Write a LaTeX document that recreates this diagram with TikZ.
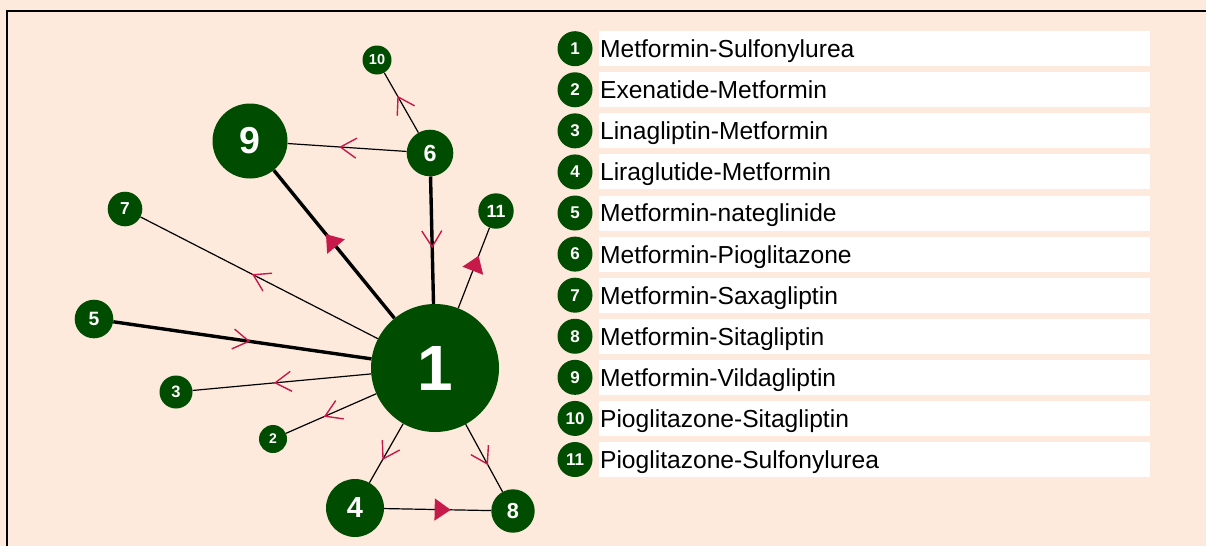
\documentclass[tikz,border=0pt]{standalone}
\usepackage{fontspec}
\setmainfont{Liberation Sans}
\usetikzlibrary{positioning,arrows.meta,decorations.markings}
\definecolor{peach}{RGB}{253,234,220}
\definecolor{darkgreen}{RGB}{0,76,0}
\definecolor{crimson}{RGB}{200,25,75}
\tikzset{
	regimen/.style={shape=circle,fill=darkgreen,text=white,inner sep=0pt,
					minimum size=2*#1pt,
					font=\fontsize{#1}{#1}\selectfont\bfseries},
	legendmark/.style={shape=circle,fill=darkgreen,text=white,inner sep=0pt,
					minimum size=35pt,
					font=\fontsize{17}{17}\selectfont\bfseries},
	legendbox/.style={shape=rectangle,fill=white,
					minimum height=35pt,text width=549pt,text depth=0pt,
					inner xsep=1pt,inner ysep=0pt,align=left,
					font=\fontsize{24.6}{28}\selectfont},
	thinlink/.style={line width=1.2pt},
	thicklink/.style={line width=3.4pt},
	openhead/.style={postaction={decorate},decoration={markings,
					mark=at position 0.5 with {\pgftransformxshift{8pt}
					\arrow[crimson,line width=1.4pt]{Straight Barb[length=16pt,width=20pt]}}}},
	fullhead/.style={postaction={decorate},decoration={markings,
					mark=at position 0.5 with {\pgftransformxshift{13pt}
					\arrow[crimson]{Triangle[length=16pt,width=22pt]}}}}
}

\begin{document}
\begin{tikzpicture}[x=1pt,y=-1pt]
		\useasboundingbox (0,0) rectangle (1206,546);
		\fill[peach] (0,0) rectangle (1206,546);
		\draw[line width=2pt] (1206,11) -- (7,11) -- (7,546);

		\node(n1)[regimen=64] at (435,368) {1};
		\node(n2)[regimen=14] at (273,439) {2};
		\node(n3)[regimen=16.5] at (176,392) {3};
		\node(n4)[regimen=29] at (355,508) {4};
		\node(n5)[regimen=19.3] at (94,319) {5};
		\node(n6)[regimen=23.3] at (430,153) {6};
		\node(n7)[regimen=17.3] at (125,209) {7};
		\node(n8)[regimen=21.7] at (513,511) {8};
		\node(n9)[regimen=37.5] at (250,141) {9};
		\node(n10)[regimen=14.5] at (377,60) {10};
		\node(n11)[regimen=17.7] at (496,211) {11};

		\draw[thinlink,openhead] (n6) -- (n10);
		\draw[thinlink,openhead] (n6) -- (n9);
		\draw[thicklink,openhead] (n6) -- (n1);
		\draw[thicklink,fullhead] (n1) -- (n9);
		\draw[thinlink,fullhead] (n1) -- (n11);
		\draw[thinlink,openhead] (n1) -- (n7);
		\draw[thicklink,openhead] (n5) -- (n1);
		\draw[thinlink,openhead] (n1) -- (n3);
		\draw[thinlink,openhead] (n1) -- (n2);
		\draw[thinlink,openhead] (n1) -- (n4);
		\draw[thinlink,openhead] (n1) -- (n8);
		\draw[thinlink,fullhead] (n4) -- (n8);

		\foreach \i/\drug in {1/Metformin-Sulfonylurea,2/Exenatide-Metformin,
				3/Linagliptin-Metformin,4/Liraglutide-Metformin,
				5/Metformin-nateglinide,6/Metformin-Pioglitazone,
				7/Metformin-Saxagliptin,8/Metformin-Sitagliptin,
				9/Metformin-Vildagliptin,10/Pioglitazone-Sitagliptin,
				11/Pioglitazone-Sulfonylurea}{
			\node(key\i)[legendmark] at (575,{48.7+41.08*(\i-1)}) {\i};
			\node(label\i)[legendbox,right=6.2pt of key\i] {\drug};
		}
\end{tikzpicture}
\end{document}
